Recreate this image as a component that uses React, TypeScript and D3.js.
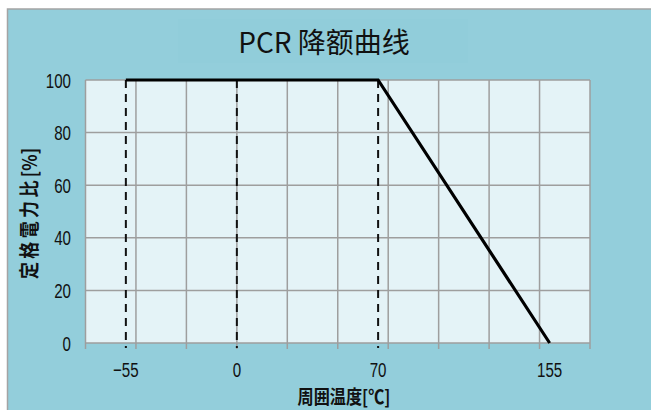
import * as d3 from "d3";

// derating curve: ambient temperature [°C] vs rated power ratio [%]
const curveTemps = [-55, 70, 155];
const curvePower = [100, 100, 0];

// dashed reference lines
const markerTemps = [-55, 0, 70];

// axes
const xLabelTicks = [-55, 0, 70, 155];
const xGridTicks = [-75, -50, -25, 0, 25, 50, 75, 100, 125, 150, 175];
const yTicks = [0, 20, 40, 60, 80, 100];

const title = "PCR 降额曲线";
const xTitle = "周囲温度[℃]";
const yTitleMain = "定格電力比";
const yTitleUnit = "[%]";

const width = 651;
const height = 410;
const plot = { left: 85.5, right: 590, top: 80, bottom: 343 };

const bg = "#93CEDB";
const plotBg = "#E4F3F7";
const gridColor = "#9E9E9E";
const numFont = "'Liberation Sans', Arial, sans-serif";
const cjkFont = "'Noto Sans CJK JP', 'Noto Sans CJK SC', sans-serif";

export default function App() {
  const x = d3.scaleLinear().domain([-75, 175]).range([plot.left, plot.right]);
  const y = d3.scaleLinear().domain([0, 100]).range([plot.bottom, plot.top]);

  const points = curveTemps.map((t, i) => [t, curvePower[i]] as [number, number]);
  const line = d3
    .line<[number, number]>()
    .x((d) => x(d[0]))
    .y((d) => y(d[1]));

  const fmt = (v: number) => (v < 0 ? "\u2212" + Math.abs(v) : String(v));

  return (
    <svg
      width={width}
      height={height}
      viewBox={`0 0 ${width} ${height}`}
      style={{ position: "absolute", left: 0, top: 0 }}
    >
      <rect x={0} y={0} width={width} height={height} fill="#fff" />
      <rect x={7.5} y={9} width={width} height={height} fill={bg} stroke="#A4A4A4" strokeWidth={1.5} />

      {/* title */}
      <rect x={178} y={19} width={290} height={44} fill="#91CDDA" />
      <text x={324} y={53} textAnchor="middle" fontFamily={cjkFont} fontSize={28} fill="#111">
        {title}
      </text>

      {/* plot area */}
      <rect
        x={plot.left}
        y={plot.top}
        width={plot.right - plot.left}
        height={plot.bottom - plot.top}
        fill={plotBg}
      />
      <g stroke={gridColor} strokeWidth={1.5}>
        {xGridTicks.map((t) => (
          <line key={"gx" + t} x1={x(t)} x2={x(t)} y1={plot.top} y2={plot.bottom + 6} />
        ))}
        {yTicks.map((t) => (
          <line key={"gy" + t} x1={plot.left} x2={plot.right} y1={y(t)} y2={y(t)} />
        ))}
      </g>

      {/* dashed markers */}
      <g stroke="#111" strokeWidth={2} strokeDasharray="8,6">
        {markerTemps.map((t) => (
          <line key={"m" + t} x1={x(t)} x2={x(t)} y1={y(100)} y2={plot.bottom + 5} />
        ))}
      </g>

      {/* curve */}
      <path d={line(points) ?? ""} fill="none" stroke="#000" strokeWidth={3.2} strokeLinejoin="miter" />

      {/* y tick labels */}
      {yTicks.map((t) => (
        <g key={"yl" + t} transform={`translate(71, ${y(t) + 7.5}) scale(0.72, 1)`}>
          <text textAnchor="end" fontFamily={numFont} fontSize={21} fill="#111">
            {t}
          </text>
        </g>
      ))}

      {/* x tick labels */}
      {xLabelTicks.map((t) => (
        <g key={"xl" + t} transform={`translate(${x(t)}, 377) scale(0.72, 1)`}>
          <text textAnchor="middle" fontFamily={numFont} fontSize={21} fill="#111">
            {fmt(t)}
          </text>
        </g>
      ))}

      {/* axis titles */}
      <g transform={`translate(344, 404) scale(0.85, 1)`}>
        <text textAnchor="middle" fontFamily={cjkFont} fontWeight="bold" fontSize={19} fill="#111">
          {xTitle}
        </text>
      </g>
      <g transform={`translate(37, ${(plot.top + plot.bottom) / 2 + 2}) rotate(-90) scale(0.85, 1)`}>
        <text textAnchor="middle" fontFamily={cjkFont} fontWeight="bold" fontSize={20} fill="#111">
          <tspan letterSpacing={4}>{yTitleMain}</tspan>
          <tspan>{yTitleUnit}</tspan>
        </text>
      </g>
    </svg>
  );
}
